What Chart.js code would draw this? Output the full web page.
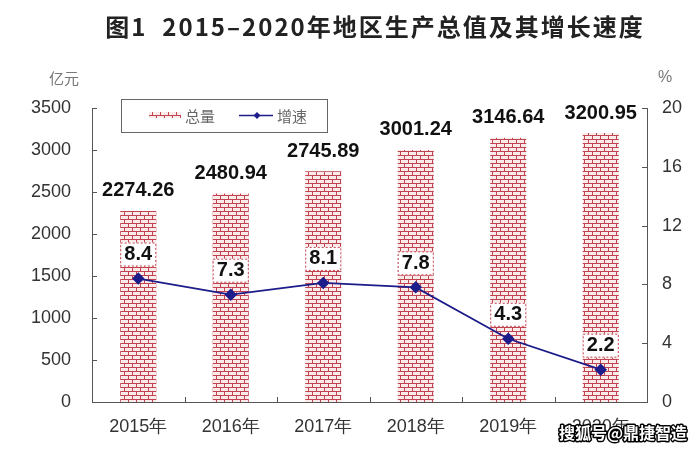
<!DOCTYPE html>
<html>
<head>
<meta charset="utf-8">
<script src="https://cdn.jsdelivr.net/npm/chart.js@4.4.1/dist/chart.umd.min.js"></script>
<style>
  html, body { margin: 0; padding: 0; background: #fff; }
  #wrap { width: 699px; height: 450px; position: relative; }
</style>
</head>
<body>
<div id="wrap"><canvas id="gdpChart" width="699" height="450"></canvas></div>
<script>
// 数据
const years = ['2015年', '2016年', '2017年', '2018年', '2019年', '2020年'];
const totals = [2274.26, 2480.94, 2745.89, 3001.24, 3146.64, 3200.95];
const growth = [8.4, 7.3, 8.1, 7.8, 4.3, 2.2];
const leftTicks = [0, 500, 1000, 1500, 2000, 2500, 3000, 3500];
const rightTicks = [0, 4, 8, 12, 16, 20];

const RED = '#c0434f';
const NAVY = '#1c1c8a';
const AXIS = '#555';
const TEXT = '#333';
const FONT = '"Liberation Sans", Arial, sans-serif';
const CJK = '"Noto Sans CJK SC", sans-serif';

const canvas = document.getElementById('gdpChart');
const ctx = canvas.getContext('2d');

// 砖块填充
function brickPattern() {
    const c = document.createElement('canvas');
    c.width = 8; c.height = 8;
    const g = c.getContext('2d');
    g.fillStyle = '#fbeaea';
    g.fillRect(0, 0, 8, 8);
    g.fillStyle = RED;
    g.fillRect(0, 3, 8, 1);
    g.fillRect(0, 7, 8, 1);
    g.fillRect(0, 0, 1, 3);
    g.fillRect(4, 4, 1, 3);
    return ctx.createPattern(c, 'repeat');
}
const brick = brickPattern();

// 自定义绘制：标题、刻度、标签、图例
const decor = {
    id: 'decor',
    afterDraw(chart) {
        const c = chart.ctx;
        const area = chart.chartArea;
        const y = chart.scales.y, y1 = chart.scales.y1, x = chart.scales.x;
        c.save();

        // 标题
        c.fillStyle = '#222';
        c.font = 'bold 24px ' + CJK;
        c.letterSpacing = '2px';
        c.textAlign = 'center';
        c.textBaseline = 'middle';
        c.fillText('图1  2015–2020年地区生产总值及其增长速度', 375, 27);
        c.letterSpacing = '0px';

        // 单位
        c.fillStyle = '#777';
        c.font = '15px ' + CJK;
        c.fillText('亿元', 64, 78);
        c.font = '16px ' + FONT;
        c.fillText('%', 665, 78);

        // 内向刻度
        c.strokeStyle = AXIS;
        c.lineWidth = 1;
        c.beginPath();
        leftTicks.forEach(v => {
            if (v === 0) return;
            const py = Math.round(y.getPixelForValue(v)) + 0.5;
            c.moveTo(area.left, py); c.lineTo(area.left + 5, py);
        });
        rightTicks.forEach(v => {
            if (v === 0) return;
            const py = Math.round(y1.getPixelForValue(v)) + 0.5;
            c.moveTo(area.right, py); c.lineTo(area.right - 5, py);
        });
        for (let i = 1; i < years.length; i++) {
            const px = Math.round((x.getPixelForValue(i - 1) + x.getPixelForValue(i)) / 2) + 0.5;
            c.moveTo(px, area.bottom); c.lineTo(px, area.bottom - 5);
        }
        c.stroke();

        // 柱顶数值
        const barMeta = chart.getDatasetMeta(0);
        c.fillStyle = '#111';
        c.font = 'bold 20px ' + FONT;
        barMeta.data.forEach((bar, i) => {
            c.fillText(totals[i].toFixed(2), bar.x, bar.y - 20);
        });

        // 增速数值框
        const lineMeta = chart.getDatasetMeta(1);
        lineMeta.data.forEach((pt, i) => {
            const w = barMeta.data[i].width;
            const bx = pt.x - w / 2, by = pt.y - 36;
            c.fillStyle = '#fff';
            c.fillRect(bx, by, w, 24);
            c.setLineDash([2, 2]);
            c.strokeStyle = RED;
            c.strokeRect(bx + 0.5, by + 0.5, w - 1, 23);
            c.setLineDash([]);
            c.fillStyle = '#111';
            c.font = 'bold 20px ' + FONT;
            c.fillText(growth[i].toFixed(1), pt.x, by + 12);
        });

        // 图例
        c.strokeStyle = '#666';
        c.lineWidth = 1;
        c.fillStyle = '#fff';
        c.fillRect(121, 99, 206, 33);
        c.strokeRect(121.5, 99.5, 206, 33);
        c.fillStyle = brick;
        c.fillRect(149, 112, 32, 6);
        c.fillStyle = '#666';
        c.font = '15px ' + CJK;
        c.textAlign = 'left';
        c.fillText('总量', 185, 116);
        c.fillText('增速', 277, 116);
        c.strokeStyle = NAVY;
        c.lineWidth = 1.5;
        c.beginPath(); c.moveTo(239, 115.5); c.lineTo(273, 115.5); c.stroke();
        c.fillStyle = NAVY;
        c.beginPath();
        c.moveTo(257, 112); c.lineTo(260.5, 115.5); c.lineTo(257, 119); c.lineTo(253.5, 115.5);
        c.closePath(); c.fill();

        // 水印
        c.font = 'bold 16px ' + CJK;
        c.lineWidth = 3;
        c.strokeStyle = '#000';
        c.lineJoin = 'round';
        c.strokeText('搜狐号@鼎捷智造', 559, 433);
        c.fillStyle = '#fff';
        c.fillText('搜狐号@鼎捷智造', 559, 433);

        c.restore();
    }
};

const plainTick = v => String(v);

new Chart(ctx, {
    data: {
        labels: years,
        datasets: [
            {
                type: 'bar',
                label: '总量',
                data: totals,
                yAxisID: 'y',
                backgroundColor: brick,
                borderWidth: 0,
                barPercentage: 0.39,
                categoryPercentage: 1,
                order: 2
            },
            {
                type: 'line',
                label: '增速',
                data: growth,
                yAxisID: 'y1',
                borderColor: NAVY,
                backgroundColor: NAVY,
                borderWidth: 1.8,
                pointStyle: 'rectRot',
                pointRadius: 5,
                pointHoverRadius: 5,
                tension: 0,
                order: 1
            }
        ]
    },
    options: {
        responsive: false,
        animation: false,
        layout: { padding: { top: 108, left: 0, right: 0, bottom: 0 } },
        plugins: {
            legend: { display: false },
            tooltip: { enabled: false }
        },
        scales: {
            x: {
                grid: { display: false, drawTicks: false },
                border: { color: AXIS },
                ticks: { color: TEXT, font: { size: 18, family: FONT }, padding: 14 },
                afterFit(s) { s.height = 48; }
            },
            y: {
                position: 'left',
                min: 0, max: 3500,
                grid: { display: false, drawTicks: false },
                border: { color: AXIS },
                ticks: { stepSize: 500, color: TEXT, font: { size: 18, family: FONT }, padding: 21, callback: plainTick },
                afterFit(s) { s.width = 92; }
            },
            y1: {
                position: 'right',
                min: 0, max: 20,
                grid: { display: false, drawTicks: false },
                border: { color: AXIS },
                ticks: { stepSize: 4, color: TEXT, font: { size: 18, family: FONT }, padding: 15, callback: plainTick },
                afterFit(s) { s.width = 52; }
            }
        }
    },
    plugins: [decor]
});
</script>
</body>
</html>
